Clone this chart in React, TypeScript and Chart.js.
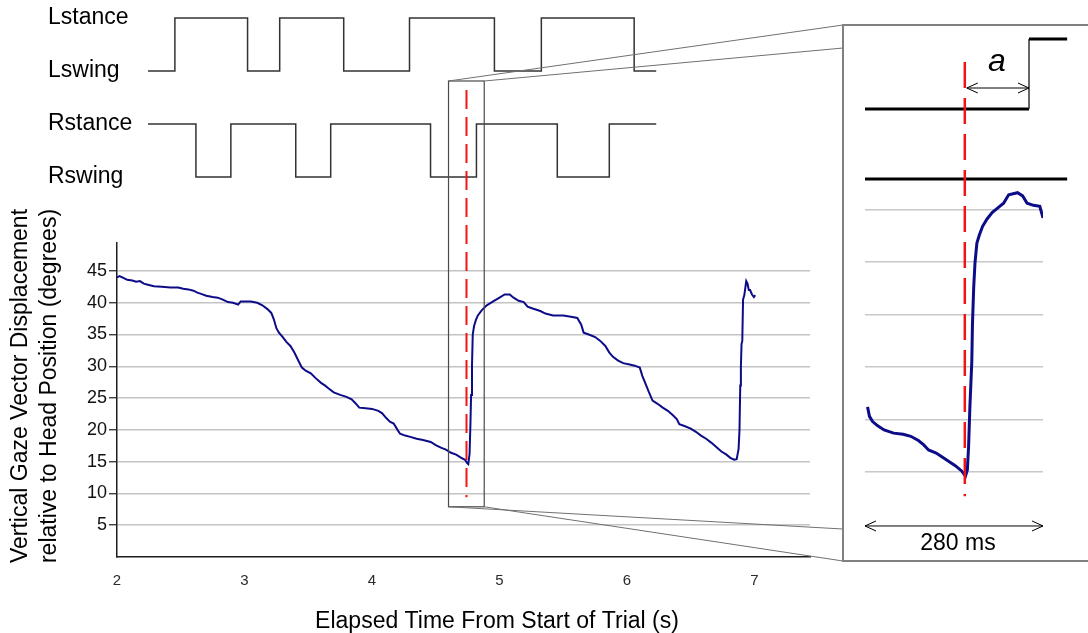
import React, { useEffect, useRef } from "react";
import { Chart, registerables } from "chart.js";

Chart.register(...registerables);

const FONT = "'Liberation Sans', Arial, Helvetica, sans-serif";

// ---------- main chart axes ----------
const X_MIN = 2;
const X_MAX = 7.435;
const Y_MIN = 0;
const Y_MAX = 49.4;
const xTickValues = [2, 3, 4, 5, 6, 7];
const yTickValues = [5, 10, 15, 20, 25, 30, 35, 40, 45];
const xTitle = "Elapsed Time From Start of Trial (s)";
const yTitleLines = ["Vertical Gaze Vector Displacement", "relative to Head Position (degrees)"];

// ---------- vertical gaze displacement (main trace) ----------
const gazeTime = [
  2.0, 2.02, 2.05, 2.08, 2.12, 2.15, 2.18, 2.21, 2.25, 2.29, 2.35, 2.42, 2.48, 2.52, 2.56, 2.6,
  2.63, 2.66, 2.7, 2.75, 2.79, 2.83, 2.87, 2.91, 2.95, 2.97, 3.0, 3.05, 3.1, 3.14, 3.18, 3.21,
  3.23, 3.25, 3.27, 3.3, 3.33, 3.36, 3.39, 3.42, 3.45, 3.48, 3.52, 3.56, 3.6, 3.63, 3.66, 3.7,
  3.75, 3.8, 3.84, 3.87, 3.9, 3.95, 4.0, 4.05, 4.08, 4.11, 4.14, 4.17, 4.2, 4.22, 4.26, 4.3,
  4.35, 4.4, 4.46, 4.5, 4.54, 4.58, 4.62, 4.66, 4.7, 4.73, 4.745, 4.755, 4.765, 4.772, 4.777,
  4.784, 4.79, 4.8, 4.815, 4.83, 4.86, 4.9, 4.95, 5.0, 5.04, 5.08, 5.11, 5.15, 5.19, 5.22, 5.26,
  5.32, 5.36, 5.42, 5.5, 5.56, 5.61, 5.64, 5.66, 5.7, 5.75, 5.79, 5.83, 5.86, 5.89, 5.93, 5.97,
  6.02, 6.06, 6.1, 6.12, 6.14, 6.17, 6.2, 6.24, 6.28, 6.32, 6.36, 6.39, 6.41, 6.45, 6.5, 6.54,
  6.58, 6.62, 6.66, 6.7, 6.74, 6.78, 6.81, 6.84, 6.86, 6.875, 6.882, 6.888, 6.893, 6.898, 6.904,
  6.91, 6.92, 6.935, 6.945, 6.955, 6.965, 6.98, 6.995, 7.005,
];
const gazeDeg = [
  44.0, 44.2, 43.9, 43.6, 43.5, 43.3, 43.4, 43.0, 42.8, 42.6, 42.5, 42.4, 42.4, 42.2, 42.1, 41.9,
  41.6, 41.4, 41.1, 40.9, 40.8, 40.5, 40.1, 40.0, 39.7, 40.2, 40.2, 40.2, 40.0, 39.6, 39.0, 38.4,
  37.4, 36.0, 35.3, 34.6, 33.8, 33.2, 32.2, 31.0, 29.8, 29.3, 28.9, 28.1, 27.4, 27.0, 26.5, 25.9,
  25.5, 25.2, 24.8, 24.2, 23.5, 23.4, 23.3, 23.0, 22.6, 21.9, 21.3, 21.0, 20.0, 19.4, 19.1, 18.9,
  18.6, 18.4, 18.1, 17.6, 17.2, 16.9, 16.4, 16.1, 15.6, 15.3, 14.8, 14.6, 16.2, 21.0, 25.5,
  30.0, 35.0, 36.3, 37.3, 38.0, 38.8, 39.6, 40.2, 40.8, 41.3, 41.3, 40.8, 40.3, 40.1, 39.4, 39.1,
  38.7, 38.3, 38.0, 38.0, 37.8, 37.6, 36.6, 35.3, 35.0, 34.6, 34.0, 33.2, 32.2, 31.5, 30.9, 30.5,
  30.3, 30.1, 29.8, 28.5, 27.5, 26.0, 24.6, 24.1, 23.5, 23.0, 22.3, 21.7, 20.9, 20.6, 20.2, 19.7,
  19.1, 18.6, 18.0, 17.3, 16.6, 16.1, 15.6, 15.3, 15.4, 17.0, 20.0, 27.0, 30.0, 33.5, 34.0,
  40.5, 41.2, 43.4, 43.0, 42.0, 42.0, 41.3, 40.9, 41.2,
];

// ---------- gait phases (top diagram) ----------
const gaitLabels = ["Rswing", "Rstance", "Lswing", "Lstance"]; // levels 1..4
const gaitStart = 2.243;
const gaitEnd = 6.229;
const leftFootTransitions = [2.454, 3.024, 3.276, 3.778, 4.294, 4.96, 5.328, 6.056]; // begins in swing
const rightFootTransitions = [2.619, 2.893, 3.402, 3.676, 4.459, 4.819, 5.453, 5.861]; // begins in stance

// ---------- event + zoom window ----------
const eventTime = 4.741;
const zoomWindow = [4.6, 4.88];

// ---------- inset (280 ms zoom) ----------
const insetTime = [
  4.604, 4.607, 4.612, 4.62, 4.63, 4.645, 4.66, 4.672, 4.684, 4.692, 4.7, 4.712, 4.722, 4.732,
  4.742, 4.752, 4.758, 4.761, 4.763, 4.765, 4.768, 4.769, 4.771, 4.773, 4.776, 4.78, 4.785,
  4.792, 4.8, 4.808, 4.818, 4.826, 4.84, 4.848, 4.855, 4.865, 4.875, 4.88,
];
const insetDeg = [
  21.2, 20.3, 19.8, 19.4, 19.0, 18.7, 18.6, 18.4, 18.0, 17.6, 17.1, 16.8, 16.4, 16.0,
  15.6, 15.1, 14.6, 15.2, 17.5, 21.2, 25.5, 29.0, 32.6, 34.9, 36.8, 37.6, 38.4,
  39.1, 39.7, 40.1, 40.6, 41.4, 41.6, 41.3, 40.6, 40.4, 40.3, 39.2,
];
const insetGridValues = [15, 20, 25, 30, 35, 40];
const insetEventTime = 4.757;
const insetLeftStepTime = 4.858;
const insetGaitEnd = 4.918;
const insetWindowLabel = "280 ms";
const insetIntervalLabel = "a";

// ---------- layout constants (page pixels) ----------
const W = 1088;
const H = 633;
const PLOT_LEFT = 117;
const PLOT_RIGHT = 810;
const PLOT_TOP = 243;
const PLOT_BOTTOM = 557;
const GAIT_H = 200;
const GAIT_LABEL_X = 48;
const GAIT_AREA_LEFT = 142;
const INSET_X = 842;
const INSET_Y = 24;
const INSET_W = W - INSET_X;
const INSET_H = 538;
const BORDER = 2;

function stepPoints(start: number, end: number, transitions: number[], first: number, other: number) {
  const pts: { x: number; y: number }[] = [{ x: start, y: first }];
  let lvl = first;
  for (const t of transitions) {
    pts.push({ x: t, y: lvl });
    lvl = lvl === first ? other : first;
    pts.push({ x: t, y: lvl });
  }
  pts.push({ x: end, y: lvl });
  return pts;
}

function doubleArrow(ctx: CanvasRenderingContext2D, xa: number, xb: number, y: number, len = 10, half = 5) {
  ctx.beginPath();
  ctx.moveTo(xa, y);
  ctx.lineTo(xb, y);
  ctx.moveTo(xa + len, y - half);
  ctx.lineTo(xa, y);
  ctx.lineTo(xa + len, y + half);
  ctx.moveTo(xb - len, y - half);
  ctx.lineTo(xb, y);
  ctx.lineTo(xb - len, y + half);
  ctx.stroke();
}

const mainOverlay = {
  id: "mainOverlay",
  afterDraw(chart: any) {
    const ctx: CanvasRenderingContext2D = chart.ctx;
    const xs = chart.scales.x;
    const ys = chart.scales.y;
    const bx0 = xs.getPixelForValue(zoomWindow[0]);
    const bx1 = xs.getPixelForValue(zoomWindow[1]);
    const bTop = 81;
    const bBottom = ys.getPixelForValue(7.9);
    ctx.save();
    // zoom window box
    ctx.strokeStyle = "#4a4a4a";
    ctx.lineWidth = 1.2;
    ctx.strokeRect(bx0, bTop, bx1 - bx0, bBottom - bTop);
    // connector lines to inset
    ctx.strokeStyle = "#707070";
    ctx.lineWidth = 1;
    const tgtX = INSET_X + 1;
    ctx.beginPath();
    ctx.moveTo(bx0, bTop);
    ctx.lineTo(tgtX, INSET_Y + 1);
    ctx.moveTo(bx1, bTop);
    ctx.lineTo(tgtX, 48);
    ctx.moveTo(bx0, bBottom);
    ctx.lineTo(tgtX, 529);
    ctx.moveTo(bx1, bBottom);
    ctx.lineTo(tgtX, INSET_Y + INSET_H - 1);
    ctx.stroke();
    // event marker
    const ex = xs.getPixelForValue(eventTime);
    ctx.strokeStyle = "#f01414";
    ctx.lineWidth = 2;
    ctx.setLineDash([19, 8]);
    ctx.beginPath();
    ctx.moveTo(ex, 90);
    ctx.lineTo(ex, ys.getPixelForValue(9.4));
    ctx.stroke();
    ctx.setLineDash([]);
    // axis titles
    ctx.fillStyle = "#000";
    ctx.font = `23px ${FONT}`;
    ctx.textAlign = "center";
    ctx.textBaseline = "alphabetic";
    ctx.fillText(xTitle, 497, 628);
    ctx.textBaseline = "middle";
    const cy = 386;
    [21, 50].forEach((cx, i) => {
      ctx.save();
      ctx.translate(cx, cy);
      ctx.rotate(-Math.PI / 2);
      ctx.fillText(yTitleLines[i], 0, 0);
      ctx.restore();
    });
    ctx.restore();
  },
};

const insetOverlay = {
  id: "insetOverlay",
  afterDatasetsDraw(chart: any) {
    const ctx: CanvasRenderingContext2D = chart.ctx;
    const xs = chart.scales.x;
    const ys = chart.scales.y;
    const gs = chart.scales.g;
    ctx.save();
    // event marker
    const ex = xs.getPixelForValue(insetEventTime);
    ctx.strokeStyle = "#f01414";
    ctx.lineWidth = 2.5;
    ctx.setLineDash([26, 10]);
    ctx.beginPath();
    ctx.moveTo(ex, gs.getPixelForValue(3.67));
    ctx.lineTo(ex, ys.getPixelForValue(12.7));
    ctx.stroke();
    ctx.setLineDash([]);
    // interval "a"
    const sx = xs.getPixelForValue(insetLeftStepTime);
    ctx.strokeStyle = "#000";
    ctx.lineWidth = 1;
    doubleArrow(ctx, ex + 2, sx, gs.getPixelForValue(3.3), 11, 5);
    ctx.fillStyle = "#000";
    ctx.font = `italic 32px ${FONT}`;
    ctx.textAlign = "center";
    ctx.textBaseline = "middle";
    ctx.fillText(insetIntervalLabel, (ex + sx) / 2, gs.getPixelForValue(3.67));
    // window duration
    const wx0 = xs.getPixelForValue(zoomWindow[0]);
    const wx1 = xs.getPixelForValue(zoomWindow[1]);
    doubleArrow(ctx, wx0, wx1, ys.getPixelForValue(9.86), 11, 5);
    ctx.font = `23px ${FONT}`;
    ctx.fillText(insetWindowLabel, (wx0 + wx1) / 2 + 4, ys.getPixelForValue(8.2));
    ctx.restore();
  },
};

export default function App() {
  const gaitRef = useRef<HTMLCanvasElement>(null);
  const mainRef = useRef<HTMLCanvasElement>(null);
  const insetRef = useRef<HTMLCanvasElement>(null);

  useEffect(() => {
    const charts: Chart[] = [];

    // ----- gait diagram (same time mapping as the main chart) -----
    const pxPerSec = (PLOT_RIGHT - PLOT_LEFT) / (X_MAX - X_MIN);
    const gaitXMin = X_MIN + (GAIT_AREA_LEFT - PLOT_LEFT) / pxPerSec;
    const gaitYMax = 4.34;
    const gaitYMin = gaitYMax - GAIT_H / 53;
    charts.push(
      new Chart(gaitRef.current as HTMLCanvasElement, {
        type: "line",
        data: {
          datasets: [
            {
              data: stepPoints(gaitStart, gaitEnd, leftFootTransitions, 3, 4),
              borderColor: "#333",
              borderWidth: 1.5,
              pointRadius: 0,
              tension: 0,
            },
            {
              data: stepPoints(gaitStart, gaitEnd, rightFootTransitions, 2, 1),
              borderColor: "#333",
              borderWidth: 1.5,
              pointRadius: 0,
              tension: 0,
            },
          ],
        },
        options: {
          animation: false,
          responsive: false,
          events: [],
          plugins: { legend: { display: false }, tooltip: { enabled: false } },
          layout: { padding: { left: GAIT_LABEL_X, right: W - PLOT_RIGHT, top: 0, bottom: 0 } },
          scales: {
            x: { type: "linear", display: false, min: gaitXMin, max: X_MAX },
            y: {
              type: "linear",
              min: gaitYMin,
              max: gaitYMax,
              afterBuildTicks: (s: any) => {
                s.ticks = [1, 2, 3, 4].map((v) => ({ value: v }));
              },
              ticks: {
                callback: (v: any) => gaitLabels[Math.round(Number(v)) - 1],
                font: { family: FONT, size: 23 },
                color: "#000",
                crossAlign: "far",
                padding: 0,
              },
              grid: { display: false, drawTicks: false },
              border: { display: false },
              afterFit: (s: any) => {
                s.width = GAIT_AREA_LEFT - GAIT_LABEL_X;
                s.paddingTop = 0;
                s.paddingBottom = 0;
              },
            },
          },
        },
      } as any)
    );

    // ----- main chart -----
    charts.push(
      new Chart(mainRef.current as HTMLCanvasElement, {
        type: "line",
        data: {
          datasets: [
            {
              data: gazeTime.map((t, i) => ({ x: t, y: gazeDeg[i] })),
              borderColor: "#0c0c88",
              borderWidth: 2,
              pointRadius: 0,
              tension: 0,
            },
          ],
        },
        options: {
          animation: false,
          responsive: false,
          events: [],
          plugins: { legend: { display: false }, tooltip: { enabled: false } },
          layout: { padding: { left: 0, right: W - PLOT_RIGHT, top: PLOT_TOP, bottom: 0 } },
          scales: {
            x: {
              type: "linear",
              min: X_MIN,
              max: X_MAX,
              afterBuildTicks: (s: any) => {
                s.ticks = xTickValues.map((v) => ({ value: v }));
              },
              ticks: {
                font: { family: FONT, size: 15 },
                color: "#2a2a2a",
                padding: 15,
                maxRotation: 0,
                autoSkip: false,
              },
              grid: { display: false, drawTicks: false },
              border: { display: true, color: "#1e1e1e", width: 1.5 },
              afterFit: (s: any) => {
                s.height = H - PLOT_BOTTOM;
                s.paddingLeft = 0;
                s.paddingRight = 0;
              },
            },
            y: {
              type: "linear",
              min: Y_MIN,
              max: Y_MAX,
              afterBuildTicks: (s: any) => {
                s.ticks = yTickValues.map((v) => ({ value: v }));
              },
              ticks: {
                font: { family: FONT, size: 18 },
                color: "#111",
                padding: 2,
              },
              grid: {
                color: "#c4c4c4",
                lineWidth: 1.5,
                tickLength: 8,
                tickColor: "#1e1e1e",
                tickWidth: 1.2,
              },
              border: { color: "#1e1e1e", width: 1.5 },
              afterFit: (s: any) => {
                s.width = PLOT_LEFT;
                s.paddingTop = 0;
                s.paddingBottom = 0;
              },
            },
          },
        },
        plugins: [mainOverlay],
      } as any)
    );

    // ----- inset -----
    const innerH = INSET_H - 2 * BORDER;
    const pxPerDeg = 10.5;
    const deg15Px = 472 - (INSET_Y + BORDER);
    const insetYMax = 15 + deg15Px / pxPerDeg;
    const insetYMin = insetYMax - innerH / pxPerDeg;
    const gPx = 70;
    const gMax = 3 + (109 - (INSET_Y + BORDER)) / gPx;
    const gMin = gMax - innerH / gPx;
    const insetLeft = 865 - (INSET_X + BORDER);
    const insetRight = INSET_X + INSET_W - 1043;

    charts.push(
      new Chart(insetRef.current as HTMLCanvasElement, {
        type: "line",
        data: {
          datasets: [
            {
              data: insetTime.map((t, i) => ({ x: t, y: insetDeg[i] })),
              yAxisID: "y",
              borderColor: "#0c0c88",
              borderWidth: 3,
              pointRadius: 0,
              tension: 0,
            },
            {
              data: [
                { x: zoomWindow[0], y: 3 },
                { x: insetLeftStepTime, y: 3 },
                { x: insetLeftStepTime, y: 4 },
                { x: insetGaitEnd, y: 4 },
              ],
              yAxisID: "g",
              borderColor: "#000",
              borderWidth: 3,
              pointRadius: 0,
              tension: 0,
              clip: false,
              segment: {
                borderWidth: (c: any) => (c.p0.parsed.x === c.p1.parsed.x ? 1.5 : 3),
                borderColor: (c: any) => (c.p0.parsed.x === c.p1.parsed.x ? "#333" : "#000"),
              },
            },
            {
              data: [
                { x: zoomWindow[0], y: 2 },
                { x: insetGaitEnd, y: 2 },
              ],
              yAxisID: "g",
              borderColor: "#000",
              borderWidth: 3,
              pointRadius: 0,
              tension: 0,
              clip: false,
            },
          ],
        },
        options: {
          animation: false,
          responsive: false,
          events: [],
          plugins: { legend: { display: false }, tooltip: { enabled: false } },
          layout: { padding: { left: insetLeft, right: insetRight, top: 0, bottom: 0 } },
          scales: {
            x: { type: "linear", display: false, min: zoomWindow[0], max: zoomWindow[1] },
            y: {
              type: "linear",
              min: insetYMin,
              max: insetYMax,
              afterBuildTicks: (s: any) => {
                s.ticks = insetGridValues.map((v) => ({ value: v }));
              },
              ticks: { display: false },
              grid: { color: "#c8c8c8", lineWidth: 1.5, drawTicks: false },
              border: { display: false },
              afterFit: (s: any) => {
                s.width = 0;
                s.paddingTop = 0;
                s.paddingBottom = 0;
              },
            },
            g: { type: "linear", axis: "y", display: false, min: gMin, max: gMax },
          },
        },
        plugins: [insetOverlay],
      } as any)
    );

    return () => charts.forEach((c) => c.destroy());
  }, []);

  return (
    <div style={{ position: "absolute", left: 0, top: 0, width: W, height: H, background: "#fff", overflow: "hidden" }}>
      <canvas
        ref={gaitRef}
        width={W}
        height={GAIT_H}
        style={{ position: "absolute", left: 0, top: 0, zIndex: 1, display: "block" }}
      />
      <canvas
        ref={mainRef}
        width={W}
        height={H}
        style={{ position: "absolute", left: 0, top: 0, zIndex: 2, display: "block" }}
      />
      <div
        style={{
          position: "absolute",
          left: INSET_X,
          top: INSET_Y,
          width: INSET_W,
          height: INSET_H,
          boxSizing: "border-box",
          borderTop: `${BORDER}px solid #808080`,
          borderLeft: `${BORDER}px solid #808080`,
          borderBottom: `${BORDER}px solid #808080`,
          background: "#fff",
          zIndex: 3,
        }}
      >
        <canvas
          ref={insetRef}
          width={INSET_W - BORDER}
          height={INSET_H - 2 * BORDER}
          style={{ position: "absolute", left: 0, top: 0, display: "block" }}
        />
      </div>
    </div>
  );
}
